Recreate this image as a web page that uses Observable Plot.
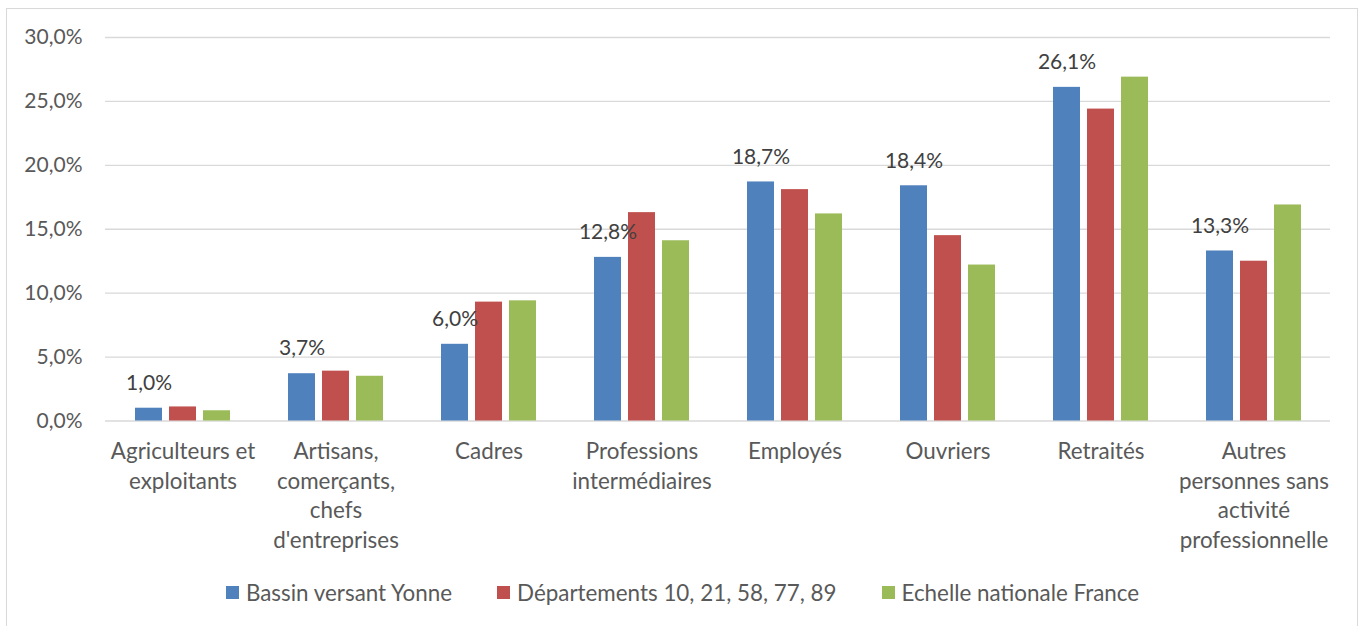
<!DOCTYPE html>
<html>
<head>
<meta charset="utf-8">
<script src="https://cdn.jsdelivr.net/npm/d3@7"></script>
<script src="https://cdn.jsdelivr.net/npm/@observablehq/plot@0.6"></script>
<style>
  html, body { margin: 0; padding: 0; background: #fff; }
  body { width: 1365px; height: 626px; position: relative; overflow: hidden; font-family: Lato, "Open Sans", sans-serif; }
  #frame { position: absolute; left: 6px; top: 8px; width: 1352px; height: 700px; border: 1.5px solid #d9d9d9; box-sizing: border-box; }
  #chart { position: absolute; left: 0; top: 0; }
  #legend { position: absolute; left: 0; top: 579px; width: 1365px; display: flex; justify-content: center; gap: 45px; font-size: 22.4px; color: #595959; }
  .item { display: flex; align-items: center; }
  .sw { width: 13px; height: 13px; margin-right: 7px; }
</style>
</head>
<body>
<div id="frame"></div>
<div id="chart"></div>
<div id="legend"></div>
<script>
const categories = ["Agriculteurs et exploitants", "Artisans, comerçants, chefs d'entreprises", "Cadres", "Professions intermédiaires", "Employés", "Ouvriers", "Retraités", "Autres personnes sans activité professionnelle"];
const categoryLabels = ["Agriculteurs et\nexploitants", "Artisans,\ncomerçants,\nchefs\nd'entreprises", "Cadres", "Professions\nintermédiaires", "Employés", "Ouvriers", "Retraités", "Autres\npersonnes sans\nactivité\nprofessionnelle"];
const seriesNames = ["Bassin versant Yonne", "Départements 10, 21, 58, 77, 89", "Echelle nationale France"];
const bassin = [1.0, 3.7, 6.0, 12.8, 18.7, 18.4, 26.1, 13.3];
const departements = [1.1, 3.9, 9.3, 16.3, 18.1, 14.5, 24.4, 12.5];
const nationale = [0.8, 3.5, 9.4, 14.1, 16.2, 12.2, 26.9, 16.9];
const colors = ["#4F81BD", "#C0504D", "#9BBB59"];
const yTicks = [0, 5, 10, 15, 20, 25, 30];

const fmt = d => d.toFixed(1).replace(".", ",") + "%";
const seriesValues = [bassin, departements, nationale];
const tables = seriesValues.map(vals => categories.map((c, i) => ({category: c, value: vals[i]})));
const offsets = [-34, 0, 34];
const labelOf = c => categoryLabels[categories.indexOf(c)];

const chart = Plot.plot({
  width: 1365,
  height: 570,
  marginLeft: 105,
  marginRight: 35,
  marginTop: 37,
  marginBottom: 149.5,
  x: {domain: categories, padding: 0, label: null},
  y: {domain: [0, 30], label: null},
  style: {fontFamily: "Lato, 'Open Sans', sans-serif", fontSize: "21px", color: "#595959", background: "transparent", overflow: "visible"},
  marks: [
    Plot.gridY(yTicks, {stroke: "#d9d9d9", strokeOpacity: 1, strokeWidth: 1.4}),
    Plot.axisY({ticks: yTicks, tickSize: 0, tickPadding: 23, tickFormat: fmt, fill: "#595959", fontSize: 21, label: null}),
    Plot.axisX({tickSize: 0, tickPadding: 17, tickFormat: labelOf, lineHeight: 1.32, lineAnchor: "top", fill: "#595959", fontSize: 22.4, label: null}),
    ...tables.map((t, k) => Plot.barY(t, {x: "category", y: "value", fill: colors[k], dx: offsets[k], insetLeft: 63, insetRight: 63})),
    Plot.text(tables[0], {x: "category", y: "value", text: d => fmt(d.value), dx: offsets[0], dy: -25, fill: "#404040", fontSize: 21})
  ]
});
document.getElementById("chart").appendChild(chart);

const legend = document.getElementById("legend");
seriesNames.forEach((name, k) => {
  const item = document.createElement("div");
  item.className = "item";
  const sw = document.createElement("span");
  sw.className = "sw";
  sw.style.background = colors[k];
  const tx = document.createElement("span");
  tx.textContent = name;
  item.appendChild(sw);
  item.appendChild(tx);
  legend.appendChild(item);
});
</script>
</body>
</html>
